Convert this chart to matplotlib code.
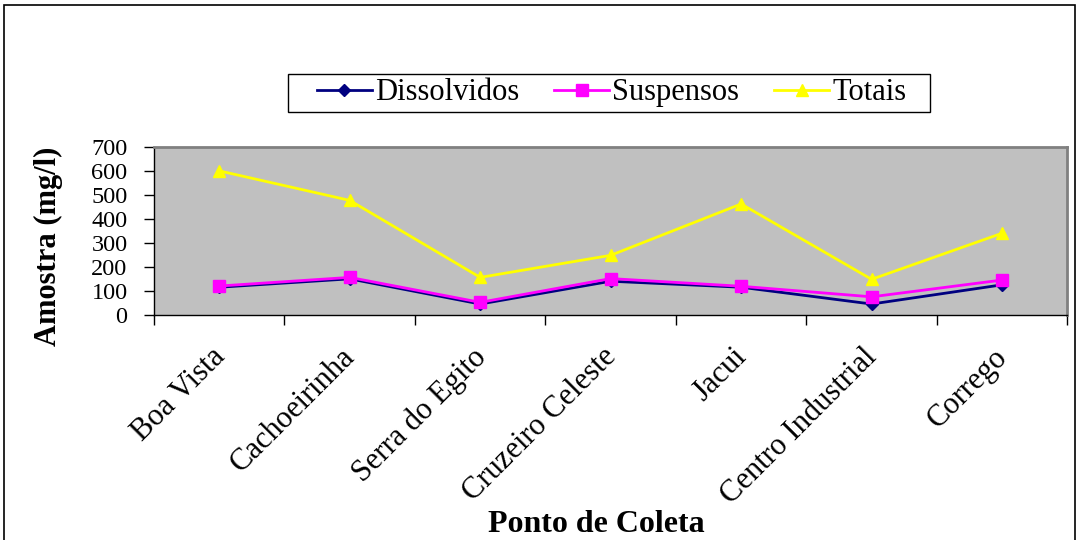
import matplotlib.pyplot as plt
from matplotlib.patches import Rectangle
from matplotlib.transforms import ScaledTranslation

pontos = ["Boa Vista", "Cachoeirinha", "Serra do Egito", "Cruzeiro Celeste",
          "Jacui", "Centro Industrial", "Corrego"]
dissolvidos = [115, 150, 45, 140, 115, 45, 125]
suspensos = [120, 156, 52, 151, 119, 75, 145]
totais = [600, 477, 156, 248, 462, 148, 340]
yticks = [0, 100, 200, 300, 400, 500, 600, 700]

plt.rcParams["font.family"] = ["Liberation Serif", "DejaVu Serif"]

fig = plt.figure(figsize=(10.77, 5.4), dpi=100)
# outer frame of the chart
fig.patches.append(Rectangle((0.004, -0.01), 0.994, 1.0, transform=fig.transFigure,
                             fill=False, edgecolor="black", linewidth=1.2))

ax = fig.add_axes([0.143, 0.417, 0.848, 0.311])
ax.set_facecolor("#C0C0C0")
x = list(range(len(pontos)))

ax.plot(x, dissolvidos, color="#000080", marker="D", markersize=6, linewidth=2, label="Dissolvidos")
ax.plot(x, suspensos, color="#FF00FF", marker="s", markersize=8, linewidth=2, label="Suspensos")
ax.plot(x, totais, color="#FFFF00", marker="^", markersize=9, linewidth=2, label="Totais")

ax.set_xlim(-0.5, len(pontos) - 0.5)
ax.set_ylim(0, 700)
ax.set_yticks(yticks)
ax.set_yticklabels([str(v) for v in yticks], fontsize=17.5)
ax.tick_params(axis="y", direction="out", length=7, width=1, pad=12)

ax.set_xticks(x)
ax.set_xticklabels(pontos, rotation=45, ha="right", rotation_mode="anchor", fontsize=22)
ax.tick_params(axis="x", which="major", length=0, pad=20)
shift = ScaledTranslation(-9 / 100, 0, fig.dpi_scale_trans)
for lab in ax.get_xticklabels():
    lab.set_transform(lab.get_transform() + shift)
ax.set_xticks([i - 0.5 for i in range(len(pontos) + 1)], minor=True)
ax.tick_params(axis="x", which="minor", direction="out", length=7, width=1)

for s in ["top", "right"]:
    ax.spines[s].set_color("#808080")
    ax.spines[s].set_linewidth(2)
for s in ["left", "bottom"]:
    ax.spines[s].set_color("black")
    ax.spines[s].set_linewidth(1)

fig.text(0.045, 0.543, "Amostra (mg/l)", rotation=90, ha="center", va="center",
         fontsize=22, fontweight="bold")
fig.text(0.554, 0.028, "Ponto de Coleta", ha="center", va="center",
         fontsize=23, fontweight="bold")

leg = fig.legend(loc="center", bbox_to_anchor=(0.568, 0.828), ncol=3, fontsize=22,
                 frameon=False, handlelength=1.8, handletextpad=0.1,
                 columnspacing=1.15, borderpad=0.2)
fig.patches.append(Rectangle((288 / 1077, 1 - 112 / 540), 642 / 1077, 38 / 540,
                             transform=fig.transFigure, fill=False,
                             edgecolor="black", linewidth=1))

fig.savefig("out.png", dpi=100)
